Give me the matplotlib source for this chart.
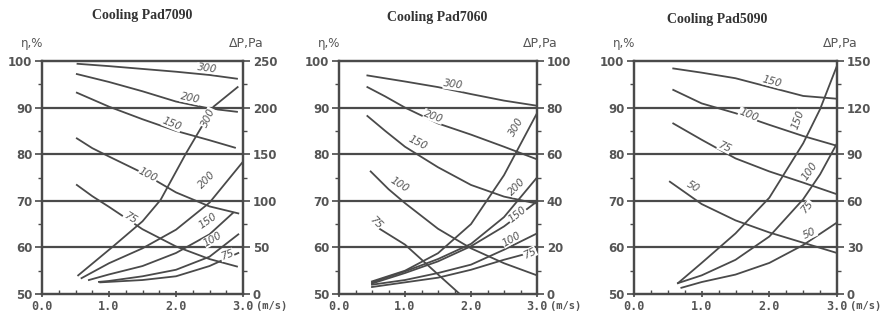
import numpy as np
import matplotlib.pyplot as plt
from matplotlib.ticker import MultipleLocator

# ---- data ----
titles = ["Cooling Pad7090", "Cooling Pad7060", "Cooling Pad5090"]
dp_max = [250, 100, 150]

# panel 1 : Cooling Pad7090
p1_eff = {
    "300": ([0.53, 1.0, 1.5, 2.0, 2.5, 2.91], [99.4, 98.9, 98.3, 97.7, 97.0, 96.2]),
    "200": ([0.52, 1.0, 1.5, 2.0, 2.5, 2.91], [97.2, 95.5, 93.5, 91.3, 89.8, 89.1]),
    "150": ([0.52, 1.0, 1.5, 2.0, 2.5, 2.88], [93.2, 90.2, 87.5, 85.0, 83.0, 81.4]),
    "100": ([0.52, 0.75, 1.0, 1.5, 2.0, 2.5, 2.93], [83.4, 81.3, 79.5, 76.0, 71.8, 68.8, 67.3]),
    "75":  ([0.52, 0.75, 1.0, 1.5, 2.0, 2.5, 2.91], [73.4, 71.0, 68.7, 63.9, 60.2, 57.5, 55.9]),
}
p1_dp = {
    "300": ([0.54, 1.06, 1.5, 1.77, 2.15, 2.56, 2.92], [20, 51, 78, 101, 151, 201, 222]),
    "200": ([0.59, 1.0, 1.5, 2.0, 2.5, 3.0], [17, 33, 49, 69, 98, 142]),
    "150": ([0.70, 1.0, 1.5, 2.0, 2.5, 2.85], [15, 21, 30, 44, 64, 87]),
    "100": ([0.85, 1.0, 1.5, 2.0, 2.5, 2.93], [13, 14, 19, 26, 40, 64]),
    "75":  ([0.87, 1.5, 2.0, 2.5, 2.93], [12.5, 15, 19, 30, 44]),
}

# panel 2 : Cooling Pad7060
p2_eff = {
    "300": ([0.43, 1.0, 1.5, 2.0, 2.5, 3.0], [96.9, 95.6, 94.4, 92.9, 91.5, 90.4]),
    "200": ([0.43, 0.7, 1.0, 1.5, 2.0, 2.5, 3.0], [94.4, 92.4, 90.0, 86.6, 84.2, 81.6, 78.9]),
    "150": ([0.43, 0.7, 1.0, 1.5, 2.0, 2.5, 3.0], [88.2, 85.0, 81.6, 77.2, 73.4, 70.9, 69.4]),
    "100": ([0.48, 0.75, 1.0, 1.5, 2.0, 2.5, 3.0], [76.3, 72.5, 69.5, 64.0, 59.8, 56.6, 54.0]),
    "75":  ([0.5, 1.0, 1.5, 1.83], [65.0, 60.6, 54.2, 50.0]),
}
p2_dp = {
    "300": ([0.5, 1.0, 1.5, 2.0, 2.5, 3.0], [5.4, 10, 17.5, 30, 51, 77.6]),
    "200": ([0.5, 1.0, 1.5, 2.0, 2.5, 3.0], [5, 9.7, 15, 21.5, 33, 50]),
    "150": ([0.5, 1.0, 1.5, 2.0, 2.5, 3.0], [4.5, 9, 14, 20.5, 29, 39.7]),
    "100": ([0.5, 1.0, 1.5, 2.0, 2.5, 3.0], [4, 6, 9, 12.6, 19, 26]),
    "75":  ([0.5, 1.0, 1.5, 2.0, 2.5, 3.0], [3, 5, 7, 10.4, 14.7, 18.5]),
}

# panel 3 : Cooling Pad5090
p3_eff = {
    "150": ([0.58, 1.0, 1.5, 2.0, 2.5, 3.0], [98.4, 97.5, 96.3, 94.4, 92.5, 91.9]),
    "100": ([0.58, 1.0, 1.5, 2.0, 2.5, 3.0], [93.8, 90.9, 88.8, 86.3, 83.9, 81.8]),
    "75":  ([0.58, 1.0, 1.5, 2.0, 2.5, 3.0], [86.6, 83.1, 79.1, 76.3, 73.9, 71.4]),
    "50":  ([0.53, 1.0, 1.5, 2.0, 2.5, 3.0], [74.1, 69.3, 65.8, 63.2, 61.0, 58.8]),
}
p3_dp = {
    "150": ([0.65, 1.0, 1.5, 2.0, 2.5, 2.75, 3.0], [7, 20, 39, 62, 97, 119, 147]),
    "100": ([0.65, 1.0, 1.5, 2.0, 2.5, 2.75, 3.0], [7, 12, 22, 37, 61, 77, 97]),
    "50":  ([0.7, 1.0, 1.5, 2.0, 2.5, 3.0], [4, 7.7, 12.5, 20, 31.5, 46]),
}

# curve label placement (x, value, rotation)
p1_eff_lab = {"300": (2.46, 98.5, -8), "200": (2.21, 92.0, -12), "150": (1.94, 86.5, -22),
              "100": (1.58, 75.5, -27), "75": (1.31, 66.3, -32)}
p1_dp_lab = {"300": (2.48, 189, 65), "200": (2.46, 122, 45), "150": (2.48, 79, 35),
             "100": (2.55, 59, 30), "75": (2.76, 42, 20)}
p2_eff_lab = {"300": (1.73, 94.9, -8), "200": (1.43, 88.1, -20), "150": (1.2, 82.4, -27),
              "100": (0.92, 73.4, -32), "75": (0.56, 65.4, -45)}
p2_dp_lab = {"300": (2.69, 71.9, 60), "200": (2.69, 46, 45), "150": (2.7, 34, 38),
             "100": (2.61, 23.6, 30), "75": (2.89, 17.6, 25)}
p3_eff_lab = {"150": (2.04, 95.6, -15), "100": (1.69, 88.4, -22), "75": (1.34, 81.6, -25),
              "50": (0.87, 73.1, -30)}
p3_dp_lab = {"150": (2.43, 112, 70), "100": (2.6, 79, 55), "75": (2.56, 56, 50),
             "50": (2.6, 39, 25)}

panels = [
    (p1_eff, p1_dp, p1_eff_lab, p1_dp_lab),
    (p2_eff, p2_dp, p2_eff_lab, p2_dp_lab),
    (p3_eff, p3_dp, p3_eff_lab, p3_dp_lab),
]

# ---- layout (pixels of the 886x320 target) ----
W, H = 886, 320
boxes = [(42, 243), (339, 537), (634, 837)]
top_px, bot_px = 61, 294
title_x = [142, 437, 717]
title_y = [15, 17, 19]

ink = "#4a4a4a"
txt = "#555555"
lw = 1.3

fig = plt.figure(figsize=(W / 100, H / 100), dpi=100)

for i, (eff, dp, eff_lab, dp_lab) in enumerate(panels):
    l, r = boxes[i]
    ax = fig.add_axes([l / W, 1 - bot_px / H, (r - l) / W, (bot_px - top_px) / H])
    ax2 = ax.twinx()

    ax.set_xlim(0, 3)
    ax.set_ylim(50, 100)
    ax2.set_ylim(0, dp_max[i])

    for k, (xs, ys) in eff.items():
        ax.plot(xs, ys, color=ink, lw=lw, zorder=3)
    for k, (xs, ys) in dp.items():
        ax2.plot(xs, ys, color=ink, lw=lw, zorder=3)

    for k, (x, y, rot) in eff_lab.items():
        ax.text(x, y, k, rotation=rot, ha="center", va="center", fontsize=7.5,
                color=txt, fontstyle="italic", zorder=4,
                bbox=dict(facecolor="white", edgecolor="none", pad=0.2))
    for k, (x, y, rot) in dp_lab.items():
        ax2.text(x, y, k, rotation=rot, ha="center", va="center", fontsize=7.5,
                 color=txt, fontstyle="italic", zorder=4,
                 bbox=dict(facecolor="white", edgecolor="none", pad=0.2))

    # horizontal grid lines
    for g in [60, 70, 80, 90]:
        ax.axhline(g, color=ink, lw=1.6, zorder=2)

    for a in (ax, ax2):
        for s in a.spines.values():
            s.set_color(ink)
            s.set_linewidth(1.6)
        a.set_facecolor("none")

    ax.set_xticks([0, 1, 2, 3])
    ax.set_xticklabels(["0.0", "1.0", "2.0", "3.0"], family="DejaVu Sans Mono",
                       fontsize=8.5, color=txt, fontweight="bold")
    ax.xaxis.set_minor_locator(MultipleLocator(0.25))
    ax.tick_params(axis="x", which="major", direction="inout", length=5, width=1.2,
                   color=ink, pad=2)
    ax.tick_params(axis="x", which="minor", direction="in", length=3, width=1.0, color=ink)

    ax.set_yticks([50, 60, 70, 80, 90, 100])
    ax.yaxis.set_minor_locator(MultipleLocator(5))
    ax.tick_params(axis="y", which="major", length=5, width=1.2, color=ink,
                   labelsize=8.5, labelcolor=txt, pad=2)
    ax.tick_params(axis="y", which="minor", length=3, width=1.0, color=ink)
    for t in ax.get_yticklabels():
        t.set_fontweight("bold")

    step = dp_max[i] / 5
    ax2.set_yticks(np.arange(0, dp_max[i] + 1, step))
    ax2.yaxis.set_minor_locator(MultipleLocator(step / 2))
    ax2.tick_params(axis="y", which="major", length=5, width=1.2, color=ink,
                    labelsize=8.5, labelcolor=txt, pad=2)
    ax2.tick_params(axis="y", which="minor", length=3, width=1.0, color=ink)
    for t in ax2.get_yticklabels():
        t.set_fontweight("bold")

    ax.text(1 + 13 / (r - l), -0.052, "(m/s)", transform=ax.transAxes, ha="left",
            va="center", fontsize=7.5, color=txt, family="DejaVu Sans Mono",
            fontweight="bold")

    fig.text(title_x[i] / W, 1 - title_y[i] / H, titles[i], ha="center", va="center",
             fontsize=10, fontweight="bold", family="Liberation Serif", color="#333333")
    fig.text((l - 10) / W, 1 - 43 / H, "η,%", ha="center", va="center",
             fontsize=8.5, color=txt)
    fig.text((r + 3) / W, 1 - 43 / H, "ΔP,Pa", ha="center", va="center",
             fontsize=9, color=txt)

fig.savefig("out.png", dpi=100)
